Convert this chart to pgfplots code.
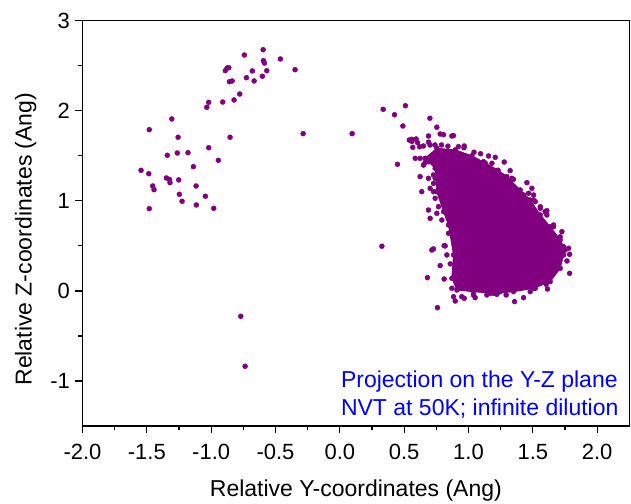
\documentclass[border=0pt]{standalone}
\usepackage{pgfplots}
\pgfplotsset{compat=1.18}
\usepackage{pgfplotstable}
\usepackage{fontspec}
\setmainfont{Liberation Sans}
\definecolor{ptpurple}{RGB}{128,0,128}
\definecolor{txtblue}{RGB}{0,0,255}

\pgfplotstableread{
x y
-0.742 2.619
-0.596 2.678
-0.462 2.575
-0.348 2.456
-0.594 2.556
-0.586 2.530
-0.876 2.475
-0.863 2.478
-0.890 2.445
-0.680 2.442
-0.568 2.445
-0.726 2.367
-0.666 2.331
-0.602 2.383
-0.858 2.323
-0.837 2.331
-0.778 2.186
-0.822 2.120
-0.910 2.097
-1.019 2.094
-1.034 2.039
-0.285 1.746
-1.306 1.909
-1.481 1.790
-1.257 1.706
-0.853 1.706
-1.019 1.590
-1.263 1.531
-1.180 1.535
-1.341 1.506
-0.944 1.450
-1.138 1.379
-1.545 1.339
-1.485 1.301
-1.348 1.254
-1.325 1.239
-1.320 1.202
-1.252 1.232
-1.454 1.165
-1.444 1.124
-1.117 1.165
-1.247 1.073
-1.045 1.051
-1.226 0.995
-1.115 0.954
-1.481 0.913
-0.980 0.917
-0.770 -0.282
-0.736 -0.837
0.337 2.016
0.425 1.956
0.510 2.056
0.490 1.831
0.096 1.746
0.448 1.406
0.327 0.496
0.700 1.917
0.754 1.817
}\sparse

\pgfplotstableread{
x y
0.560 1.683
0.593 1.687
0.604 1.646
0.780 1.742
0.806 1.735
0.871 1.720
0.884 1.724
0.567 1.594
0.650 1.609
0.689 1.720
0.702 1.620
0.586 1.472
0.663 1.424
0.689 1.435
0.967 1.609
0.540 1.675
0.560 1.660
0.620 1.600
0.690 1.652
0.740 1.620
0.790 1.620
0.840 1.607
0.922 1.602
0.965 1.590
1.043 1.540
1.094 1.523
1.156 1.498
1.208 1.483
1.278 1.431
1.324 1.335
1.337 1.250
1.117 1.435
1.182 1.417
1.350 1.239
1.454 1.202
1.493 1.139
1.506 1.065
1.519 0.991
1.428 1.065
1.558 0.917
1.609 0.891
1.609 0.843
1.661 0.732
1.726 0.658
1.713 0.602
0.624 1.269
0.637 1.102
0.624 1.472
0.650 1.397
0.689 1.250
0.702 1.139
0.728 1.194
0.741 1.028
0.728 1.287
0.689 0.898
0.702 0.806
0.754 0.861
0.793 0.787
0.728 0.466
0.715 0.454
0.819 0.499
0.811 0.503
0.832 0.399
0.780 0.281
0.681 0.147
0.811 0.132
0.759 -0.186
0.897 -0.112
0.967 -0.082
1.052 -0.075
1.143 -0.045
1.221 -0.038
1.293 -0.045
1.358 -0.119
1.428 -0.075
1.480 -0.008
1.519 0.029
1.614 0.021
1.604 0.073
1.786 0.195
1.786 0.406
1.765 0.332
1.778 0.473
1.739 0.491
1.687 0.565
1.661 0.713
1.596 0.880
1.558 0.935
1.506 1.010
1.467 1.084
0.884 -0.064
0.948 -0.064
1.039 -0.045
1.169 -0.027
1.247 -0.008
0.806 1.009
0.871 0.029
0.780 1.343
0.741 1.250
0.728 1.102
0.767 0.935
0.845 0.640
0.858 0.300
}\edge

\pgfplotstableread{
x y
0.663 1.472
0.754 1.583
0.897 1.565
1.026 1.500
1.130 1.420
1.230 1.340
1.298 1.269
1.402 1.121
1.480 1.010
1.558 0.843
1.635 0.714
1.713 0.566
1.752 0.455
1.739 0.399
1.713 0.251
1.635 0.103
1.506 0.029
1.350 -0.008
1.195 -0.027
1.039 -0.008
0.910 0.010
0.871 0.140
0.884 0.399
0.845 0.732
0.806 0.880
0.754 1.102
0.741 1.361
}\core

\begin{document}
\begin{tikzpicture}
\begin{axis}[
  scale only axis,
  width=546.8bp, height=405.3bp,
  xmin=-2, xmax=2.25, ymin=-1.5, ymax=3,
  xtick={-2,-1.5,-1,-0.5,0,0.5,1,1.5,2},
  xticklabels={-2.0,-1.5,-1.0,-0.5,0.0,0.5,1.0,1.5,2.0},
  ytick={-1,0,1,2,3},
  yticklabels={-1,0,1,2,3},
  minor x tick num=1, minor y tick num=1,
  xtick pos=bottom, ytick pos=left,
  tick align=outside,
  major tick length=7bp, minor tick length=4bp,
  every tick/.style={black, line width=1.2bp},
  axis line style={line width=1.5bp},
  tick label style={font=\fontsize{22bp}{26bp}\selectfont},
  xticklabel style={yshift=-8bp},
  yticklabel style={xshift=-2bp},
  label style={font=\fontsize{23bp}{27bp}\selectfont},
  xlabel={Relative Y-coordinates (Ang)},
  ylabel={Relative Z-coordinates (Ang)},
  xlabel style={at={(axis description cs:0.5,-0.1744)}, anchor=base},
  ylabel style={at={(axis description cs:-0.0931,0.461)}, anchor=base},
]
\addplot[ptpurple, fill=ptpurple, draw=ptpurple, line width=1bp] table {\core} -- cycle;
\addplot[ptpurple, only marks, mark=*, mark size=2.5bp, mark options={draw=none, fill=ptpurple}] table {\core};
\addplot[ptpurple, only marks, mark=*, mark size=2.5bp, mark options={draw=none, fill=ptpurple}] table {\edge};
\addplot[ptpurple, only marks, mark=*, mark size=2.5bp, mark options={draw=none, fill=ptpurple}] table {\sparse};
\node[anchor=base west, inner sep=0, text=txtblue, font=\fontsize{23bp}{27bp}\selectfont] at (axis cs:0.008,-1.070) {Projection on the Y-Z plane};
\node[anchor=base west, inner sep=0, text=txtblue, font=\fontsize{23bp}{27bp}\selectfont] at (axis cs:0.008,-1.385) {NVT at 50K; infinite dilution};
\coordinate (c00) at (rel axis cs:0,0);
\end{axis}
\pgfresetboundingbox
\useasboundingbox (c00) ++(-82.5bp,-78bp) rectangle ++(631bp,504bp);
\end{tikzpicture}
\end{document}
